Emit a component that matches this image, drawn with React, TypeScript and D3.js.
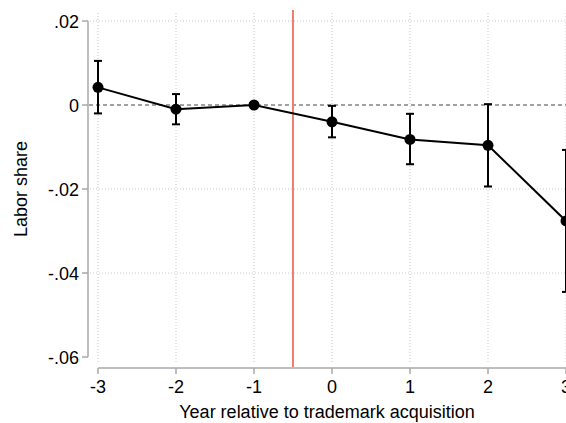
import React from "react";
import * as d3 from "d3";

const years = [-3, -2, -1, 0, 1, 2, 3];
const estimates = [0.0042, -0.001, 0, -0.004, -0.0082, -0.0096, -0.0276];
const ciLower = [-0.002, -0.0046, null, -0.0077, -0.0141, -0.0194, -0.0445];
const ciUpper = [0.0105, 0.0026, null, -0.0002, -0.0021, 0.0002, -0.0107];
const yTicks = [0.02, 0, -0.02, -0.04, -0.06];
const yTickLabels = [".02", "0", "-.02", "-.04", "-.06"];
const xTickLabels = ["-3", "-2", "-1", "0", "1", "2", "3"];
const eventLine = -0.5;
const yGridValues = [0.02, -0.02, -0.04];

const W = 566;
const H = 423;
const FONT = "'Liberation Sans', Arial, Helvetica, sans-serif";

export default function App() {
  const x = d3.scaleLinear().domain([-3, 3]).range([98, 566]);
  const y = d3.scaleLinear().domain([-0.06, 0.02]).range([357, 21]);
  const line = d3
    .line<number>()
    .x((_, i) => x(years[i]))
    .y((d) => y(d));
  const axisY = 368;
  const axisX = 88;

  return (
    <svg
      width={W}
      height={H}
      style={{ position: "absolute", left: 0, top: 0, background: "#fff" }}
      fontFamily={FONT}
    >
      <rect x={0} y={0} width={W} height={H} fill="#fff" />
      {/* vertical grid */}
      {years.map((v) => (
        <line
          key={"vg" + v}
          x1={x(v)}
          x2={x(v)}
          y1={13}
          y2={363}
          stroke="#c8c8c8"
          strokeWidth={1}
          strokeDasharray="1,2"
        />
      ))}
      {/* horizontal grid */}
      {yGridValues.map((v) => (
        <line
          key={"hg" + v}
          x1={90}
          x2={W}
          y1={y(v)}
          y2={y(v)}
          stroke="#c8c8c8"
          strokeWidth={1}
          strokeDasharray="1,2"
        />
      ))}
      {/* zero line */}
      <line
        x1={89}
        x2={W}
        y1={y(0)}
        y2={y(0)}
        stroke="#444"
        strokeWidth={1.2}
        strokeDasharray="4,3"
      />
      {/* y axis */}
      <line x1={axisX} x2={axisX} y1={y(0.02)} y2={y(-0.06)} stroke="#a8a8a8" strokeWidth={1.5} />
      {yTicks.map((v, i) => (
        <g key={"yt" + v}>
          <line x1={axisX - 6} x2={axisX} y1={y(v)} y2={y(v)} stroke="#a8a8a8" strokeWidth={1.5} />
          <text x={79} y={y(v) + 6.5} textAnchor="end" fontSize={18} fill="#000">
            {yTickLabels[i]}
          </text>
        </g>
      ))}
      {/* x axis */}
      <line x1={x(-3)} x2={W} y1={axisY} y2={axisY} stroke="#a8a8a8" strokeWidth={1.5} />
      {years.map((v, i) => (
        <g key={"xt" + v}>
          <line x1={x(v)} x2={x(v)} y1={axisY} y2={axisY + 6} stroke="#a8a8a8" strokeWidth={1.5} />
          <text x={x(v)} y={393} textAnchor="middle" fontSize={18} fill="#000">
            {xTickLabels[i]}
          </text>
        </g>
      ))}
      {/* event line */}
      <line
        x1={x(eventLine)}
        x2={x(eventLine)}
        y1={10}
        y2={axisY - 1}
        stroke="#f27b72"
        strokeWidth={2}
      />
      {/* connecting line */}
      <path d={line(estimates) || ""} fill="none" stroke="#000" strokeWidth={2} />
      {/* error bars */}
      {years.map((v, i) => {
        const lo = ciLower[i];
        const hi = ciUpper[i];
        if (lo === null || hi === null) return null;
        const cx = x(v);
        return (
          <g key={"eb" + v} stroke="#000" strokeWidth={2}>
            <line x1={cx} x2={cx} y1={y(hi)} y2={y(lo)} />
            <line x1={cx - 4} x2={cx + 4} y1={y(hi)} y2={y(hi)} />
            <line x1={cx - 4} x2={cx + 4} y1={y(lo)} y2={y(lo)} />
          </g>
        );
      })}
      {/* markers */}
      {years.map((v, i) => (
        <circle key={"pt" + v} cx={x(v)} cy={y(estimates[i])} r={5.5} fill="#000" />
      ))}
      {/* axis titles */}
      <text x={327} y={418} textAnchor="middle" fontSize={18} fill="#000">
        Year relative to trademark acquisition
      </text>
      <text
        transform={`translate(27, 189) rotate(-90)`}
        textAnchor="middle"
        fontSize={18}
        fill="#000"
      >
        Labor share
      </text>
    </svg>
  );
}
